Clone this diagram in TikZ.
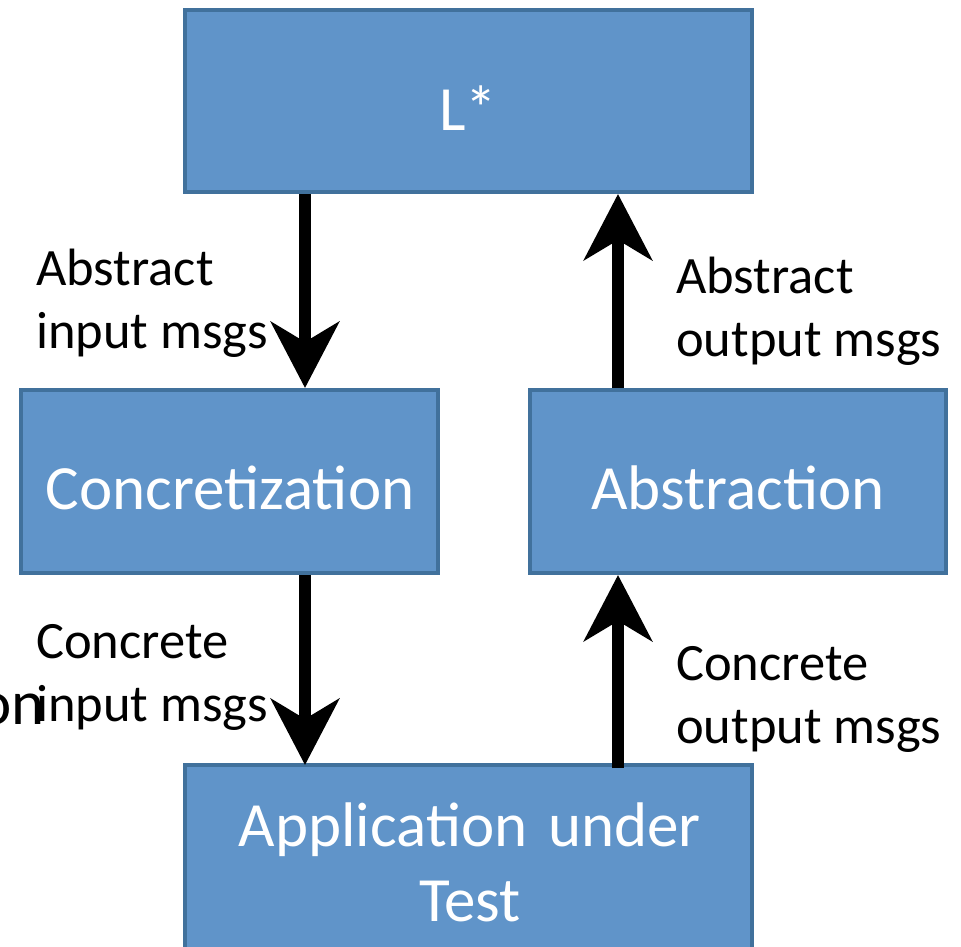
\documentclass[tikz,border=0pt]{standalone}
\usepackage{fontspec}
\setmainfont{Carlito}
\usetikzlibrary{arrows.meta}
\definecolor{boxfill}{HTML}{6094C9}
\definecolor{boxedge}{HTML}{41719C}
\tikzset{
  block/.style={draw=boxedge, line width=4.5pt, fill=boxfill},
  blocktext/.style={text=white, font=\fontsize{63}{75}\selectfont, align=center},
  flow/.style={line width=12pt, draw=black,
    -{Stealth[length=66pt, width=68pt, inset=20pt]}},
  note/.style={font=\fontsize{52.5}{63}\selectfont, align=left, anchor=north west, inner sep=0pt}
}
\begin{document}
\begin{tikzpicture}[x=1pt, y=-1pt]
  \useasboundingbox (0,0) rectangle (961,947);
  \begin{scope}
    \clip (0,0) rectangle (961,947);
    % blocks
    \draw[block] (185,10) rectangle (752,192);
    \draw[block] (21,390) rectangle (438,573);
    \draw[block] (530,390) rectangle (946,573);
    \draw[block] (185,765) rectangle (752,990);
    \node[blocktext] (lstar) at (468,108) {L*};
    \node[blocktext] (conc) at (230,488) {Concretization};
    \node[blocktext] (abs) at (738,488) {Abstraction};
    \node[blocktext, text width=600pt] (app) at (470,862) {Application under\\Test};
    % anchor points for the connectors on the block edges
    \coordinate (lsb) at (305,194);
    \coordinate (ctp) at (305,388);
    \coordinate (csb) at (305,575);
    \coordinate (atp) at (305,765);
    \coordinate (lsb2) at (618,194);
    \coordinate (abt) at (618,388);
    \coordinate (abb) at (618,575);
    \coordinate (apt) at (618,768);
    % connectors
    \draw[flow] (lsb) -- (ctp);
    \draw[flow] (csb) -- (atp);
    \draw[flow] (abt) -- (lsb2);
    \draw[flow] (apt) -- (abb);
    % labels
    \node[note] (l1) at (36,249) {Abstract\\input msgs};
    \node[note] (l2) at (676,257) {Abstract\\output msgs};
    \node[note] (l3) at (36,624) {Concrete\\input msgs};
    \node[note] (l4) at (676,646) {Concrete\\output msgs};
    \node[font=\fontsize{63}{75}\selectfont, anchor=base east, inner sep=0pt] (frag) at (45,724) {on};
  \end{scope}
\end{tikzpicture}
\end{document}
